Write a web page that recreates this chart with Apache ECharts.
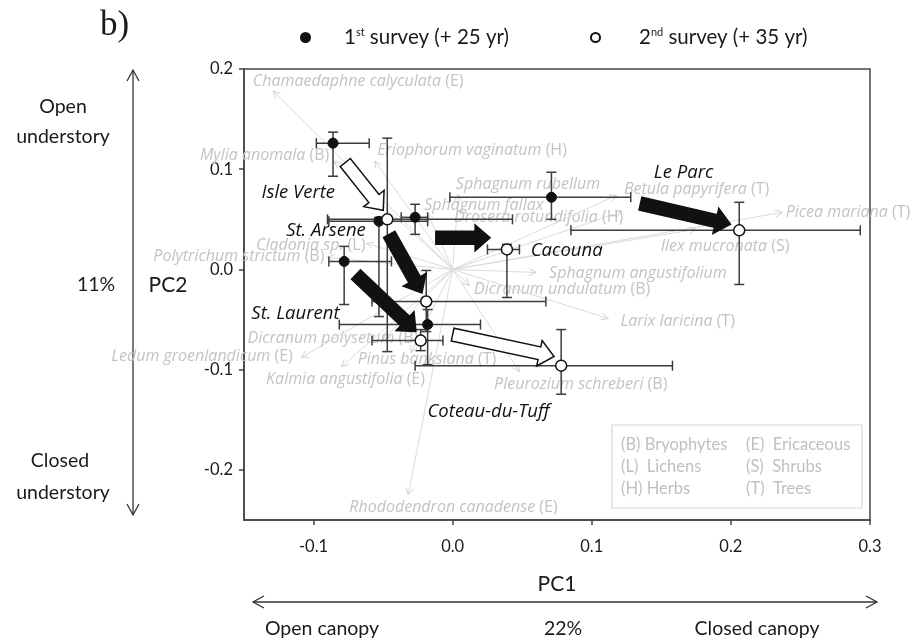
<!DOCTYPE html>
<html><head><meta charset="utf-8">
<script src="https://cdn.jsdelivr.net/npm/echarts@6/dist/echarts.min.js"></script>
<style>html,body{margin:0;padding:0;background:#fff}#c{width:916px;height:641px}</style>
</head><body><div id="c"></div>
<script>
// ---- Site scores (PC1, PC2) ----
const siteNames = ['Isle Verte', 'St. Arsene', 'Cacouna', 'Le Parc', 'St. Laurent', 'Coteau-du-Tuff'];
// 1st survey (+25 yr)
const s1X   = [-0.086, -0.053, -0.027, 0.071, -0.078, -0.018];
const s1Y   = [0.126, 0.048, 0.052, 0.072, 0.008, -0.055];
const s1XLo = [-0.098, -0.089, -0.037, -0.002, -0.089, -0.0815];
const s1XHi = [-0.060, -0.018, -0.018, 0.128, -0.044, 0.020];
const s1YLo = [0.093, -0.047, 0.035, 0.050, -0.035, -0.095];
const s1YHi = [0.137, 0.052, 0.065, 0.097, 0.023, -0.040];
// 2nd survey (+35 yr)
const s2X   = [-0.047, -0.019, 0.039, 0.206, -0.023, 0.078];
const s2Y   = [0.050, -0.032, 0.020, 0.039, -0.071, -0.096];
const s2XLo = [-0.090, -0.058, 0.025, 0.085, -0.058, -0.027];
const s2XHi = [0.043, 0.067, 0.048, 0.293, -0.007, 0.158];
const s2YLo = [-0.082, -0.062, -0.028, -0.015, -0.081, -0.1245];
const s2YHi = [0.131, -0.001, 0.025, 0.067, -0.060, -0.060];
// trajectory arrows (data coords)
const arrowX0 = [-0.0772, -0.0456, -0.0121, 0.135, -0.0695, 0.0];
const arrowY0 = [0.1067, 0.035, 0.0316, 0.0657, -0.005, -0.065];
const arrowX1 = [-0.0499, -0.0221, 0.0269, 0.1997, -0.0264, 0.0729];
const arrowY1 = [0.059, -0.0234, 0.0316, 0.045, -0.0618, -0.0868];
const arrowFilled = [false, true, true, true, true, false];
// site label anchors (left edge)
const siteLabelX = [-0.1375, -0.1197, 0.0561, 0.1446, -0.1447, -0.0181];
const siteLabelY = [0.0763, 0.0383, 0.0183, 0.0963, -0.0438, -0.1418];

// ---- Species vectors ----
const speciesNames = ['Chamaedaphne calyculata', 'Mylia anomala', 'Eriophorum vaginatum', 'Sphagnum rubellum',
  'Sphagnum fallax', 'Drosera rotundifolia', 'Betula papyrifera', 'Picea mariana', 'Ilex mucronata',
  'Cladonia sp.', 'Polytrichum strictum', 'Sphagnum angustifolium', 'Dicranum undulatum', 'Larix laricina',
  'Dicranum polysetum', 'Ledum groenlandicum', 'Kalmia angustifolia', 'Pinus banksiana',
  'Pleurozium schreberi', 'Rhododendron canadense'];
const speciesGroup = ['(E)', '(B)', '(H)', '', '', '(H)', '(T)', '(T)', '(S)', '(L)', '(B)', '', '(B)', '(T)',
  '(B)', '(E)', '(E)', '(T)', '(B)', '(E)'];
const speciesTipX = [-0.129, -0.085, -0.056, 0.004, -0.018, 0.122, 0.118, 0.237, 0.175, -0.062, -0.090, 0.060,
  0.012, 0.112, -0.050, -0.109, -0.080, -0.030, 0.048, -0.032];
const speciesTipY = [0.178, 0.108, 0.108, 0.075, 0.056, 0.058, 0.074, 0.057, 0.040, 0.026, 0.012, -0.003,
  -0.016, -0.049, -0.070, -0.088, -0.097, -0.083, -0.102, -0.225];
const speciesLabelX = [-0.1437, -0.0887, -0.0542, 0.0023, -0.0205, 0.001, 0.1231, 0.2394, 0.1495, -0.1413,
  -0.0922, 0.0693, 0.0154, 0.1207, -0.1475, -0.2454, -0.1341, -0.0683, 0.0298, -0.0743];
const speciesLabelY = [0.188, 0.1134, 0.1184, 0.0844, 0.0634, 0.0517, 0.080, 0.0567, 0.0233, 0.0243, 0.0133,
  -0.0044, -0.020, -0.0518, -0.0685, -0.0868, -0.110, -0.090, -0.115, -0.237];
const speciesLabelAlign = ['left', 'right', 'left', 'left', 'left', 'left', 'left', 'left', 'left', 'left',
  'right', 'left', 'left', 'left', 'left', 'left', 'left', 'left', 'left', 'left'];

// ---- Axis ticks ----
const xTicks = [-0.1, 0.0, 0.1, 0.2, 0.3];
const yTicks = [-0.2, -0.1, 0.0, 0.1, 0.2];
const legendTypes = [['(B) Bryophytes', '(L)  Lichens', '(H) Herbs'], ['(E)  Ericaceous', '(S)  Shrubs', '(T)  Trees']];

const s1Name = '1st survey (+ 25 yr)';
const s2Name = '2nd survey (+ 35 yr)';
const FONT = 'Lato';
const INK = '#1a1a1a';
const BAR = '#3c3c3c';
const SP = 16; // species label size

const chart = echarts.init(document.getElementById('c'), null, {renderer: 'canvas'});

function errData(X, Y, XL, XH, YL, YH) {
  return X.map((x, i) => [x, Y[i], XL[i], XH[i], YL[i], YH[i]]);
}
function renderErr(params, api) {
  const x = api.value(0), y = api.value(1);
  const l = api.coord([api.value(2), y]), r = api.coord([api.value(3), y]);
  const b = api.coord([x, api.value(4)]), t = api.coord([x, api.value(5)]);
  const cap = 5;
  const st = {stroke: BAR, lineWidth: 1.5};
  const L = (x1, y1, x2, y2) => ({type: 'line', shape: {x1, y1, x2, y2}, style: st});
  return {type: 'group', children: [
    L(l[0], l[1], r[0], r[1]), L(l[0], l[1] - cap, l[0], l[1] + cap), L(r[0], r[1] - cap, r[0], r[1] + cap),
    L(b[0], b[1], t[0], t[1]), L(b[0] - cap, b[1], b[0] + cap, b[1]), L(t[0] - cap, t[1], t[0] + cap, t[1])
  ]};
}
function renderArrow(params, api) {
  const p0 = api.coord([api.value(0), api.value(1)]);
  const p1 = api.coord([api.value(2), api.value(3)]);
  const filled = arrowFilled[params.dataIndex];
  const dx = p1[0] - p0[0], dy = p1[1] - p0[1];
  const len = Math.hypot(dx, dy), ux = dx / len, uy = dy / len, nx = -uy, ny = ux;
  const sw = 6.5, hw = 13, hl = 15;
  const bx = p1[0] - ux * hl, by = p1[1] - uy * hl;
  const pts = [[p0[0] + nx * sw, p0[1] + ny * sw], [bx + nx * sw, by + ny * sw], [bx + nx * hw, by + ny * hw],
    [p1[0], p1[1]], [bx - nx * hw, by - ny * hw], [bx - nx * sw, by - ny * sw], [p0[0] - nx * sw, p0[1] - ny * sw]];
  return {type: 'polygon', shape: {points: pts},
    style: {fill: filled ? '#111' : '#fff', stroke: '#111', lineWidth: 1.5}};
}
function renderSpecies(params, api) {
  const i = params.dataIndex;
  const o = api.coord([0, 0]);
  const tip = api.coord([api.value(0), api.value(1)]);
  const lab = api.coord([api.value(2), api.value(3)]);
  const dx = tip[0] - o[0], dy = tip[1] - o[1];
  const len = Math.hypot(dx, dy), ux = dx / len, uy = dy / len, nx = -uy, ny = ux;
  const h = 7, w = 3.5;
  const ah = [[tip[0] - ux * h + nx * w, tip[1] - uy * h + ny * w], [tip[0], tip[1]],
    [tip[0] - ux * h - nx * w, tip[1] - uy * h - ny * w]];
  const g = speciesGroup[i];
  const txt = '{i|' + speciesNames[i] + '}' + (g ? ' {n|' + g + '}' : '');
  return {type: 'group', children: [
    {type: 'line', shape: {x1: o[0], y1: o[1], x2: tip[0], y2: tip[1]}, style: {stroke: '#dadada', lineWidth: 1}},
    {type: 'polyline', shape: {points: ah}, style: {stroke: '#d2d2d2', lineWidth: 1, fill: null}},
    {type: 'text', x: lab[0], y: lab[1], style: {text: txt, align: speciesLabelAlign[i], verticalAlign: 'middle',
      fontSize: SP, fontFamily: 'Open Sans', fill: '#c3c3c3',
      rich: {i: {fontStyle: 'italic', fontFamily: 'Open Sans', fontSize: SP, fill: '#c3c3c3'},
             n: {fontFamily: 'Open Sans', fontSize: SP, fill: '#c3c3c3'}}}}
  ]};
}
function renderSiteLabel(params, api) {
  const p = api.coord([api.value(0), api.value(1)]);
  return {type: 'text', x: p[0], y: p[1], style: {text: siteNames[params.dataIndex], align: 'left',
    verticalAlign: 'middle', fontSize: 18.5, fontStyle: 'italic', fontFamily: 'Open Sans', fill: '#111'}};
}

const graphics = [];
graphics.push({type: 'text', left: 100, top: 8, style: {text: 'b)', fontFamily: 'Liberation Serif', fontSize: 35, fill: INK}});
function dblArrowV(x, y0, y1) {
  return [{type: 'line', shape: {x1: x, y1: y0, x2: x, y2: y1}, style: {stroke: '#333', lineWidth: 1.3}},
    {type: 'polyline', shape: {points: [[x - 6, y0 + 11], [x, y0], [x + 6, y0 + 11]]}, style: {stroke: '#333', lineWidth: 1.3, fill: null}},
    {type: 'polyline', shape: {points: [[x - 6, y1 - 11], [x, y1], [x + 6, y1 - 11]]}, style: {stroke: '#333', lineWidth: 1.3, fill: null}}];
}
function dblArrowH(y, x0, x1) {
  return [{type: 'line', shape: {x1: x0, y1: y, x2: x1, y2: y}, style: {stroke: '#333', lineWidth: 1.3}},
    {type: 'polyline', shape: {points: [[x0 + 11, y - 6], [x0, y], [x0 + 11, y + 6]]}, style: {stroke: '#333', lineWidth: 1.3, fill: null}},
    {type: 'polyline', shape: {points: [[x1 - 11, y - 6], [x1, y], [x1 - 11, y + 6]]}, style: {stroke: '#333', lineWidth: 1.3, fill: null}}];
}
graphics.push(...dblArrowV(133, 70, 515));
graphics.push(...dblArrowH(602, 253, 877));
function T(text, x, y, size, align) {
  return {type: 'text', x: x, y: y, style: {text: text, fontFamily: FONT, fontSize: size || 19.5, fill: INK,
    align: align || 'center', verticalAlign: 'middle'}};
}
graphics.push(T('Open', 63, 107), T('understory', 63, 137), T('11%', 96, 285), T('PC2', 168, 285, 21),
  T('Closed', 60, 461), T('understory', 63, 493),
  T('PC1', 557, 584, 21), T('Open canopy', 322, 629), T('22%', 563, 629), T('Closed canopy', 757, 629));
graphics.push({type: 'rect', shape: {x: 612, y: 425, width: 250, height: 83}, style: {fill: 'none', stroke: '#d6d6d6', lineWidth: 1.2}});
legendTypes.forEach((col, ci) => col.forEach((t, ri) => {
  graphics.push({type: 'text', x: ci === 0 ? 621 : 746, y: 445 + ri * 21.7,
    style: {text: t, fontFamily: FONT, fontSize: 16.5, fill: '#c0c0c0', align: 'left', verticalAlign: 'middle'}});
}));

function legendText(pad) {
  return {fontFamily: FONT, fontSize: 20.5, color: INK, padding: [0, 0, 0, pad],
    rich: {sup: {fontSize: 11, verticalAlign: 'top', fontFamily: FONT, color: INK, padding: [0, 0, 9, 0]}}};
}
const legendFmt = n => n === s1Name ? '1{sup|st} survey (+ 25 yr)' : '2{sup|nd} survey (+ 35 yr)';

chart.setOption({
  animation: false,
  grid: {left: 244, top: 69, width: 626, height: 451, show: true, borderColor: '#444', borderWidth: 1.5, backgroundColor: 'transparent'},
  legend: [
    {data: [s1Name], left: 300, top: 27, padding: 0, itemWidth: 9, itemHeight: 9, formatter: legendFmt, textStyle: legendText(29)},
    {data: [s2Name], left: 590, top: 27, padding: 0, itemWidth: 9, itemHeight: 9, formatter: legendFmt, textStyle: legendText(34)}
  ],
  xAxis: {type: 'value', min: -0.15, max: 0.3,
    axisLine: {show: true, onZero: false, lineStyle: {color: '#444', width: 1.5}},
    axisTick: {show: true, length: 5, customValues: xTicks, lineStyle: {color: '#444', width: 1.5}},
    axisLabel: {customValues: xTicks, formatter: v => v.toFixed(1), margin: 18, fontFamily: FONT, fontSize: 16.5, color: INK},
    splitLine: {show: false}},
  yAxis: {type: 'value', min: -0.25, max: 0.2,
    axisLine: {show: true, onZero: false, lineStyle: {color: '#444', width: 1.5}},
    axisTick: {show: true, length: 5, customValues: yTicks, lineStyle: {color: '#444', width: 1.5}},
    axisLabel: {customValues: yTicks, formatter: v => v.toFixed(1), margin: 11, fontFamily: FONT, fontSize: 16.5, color: INK},
    splitLine: {show: false}},
  graphic: graphics,
  series: [
    {type: 'custom', name: 'species', z: 1, silent: true, renderItem: renderSpecies,
      data: speciesNames.map((n, i) => [speciesTipX[i], speciesTipY[i], speciesLabelX[i], speciesLabelY[i]])},
    {type: 'custom', name: 'err1', z: 2, silent: true, renderItem: renderErr, data: errData(s1X, s1Y, s1XLo, s1XHi, s1YLo, s1YHi)},
    {type: 'custom', name: 'err2', z: 2, silent: true, renderItem: renderErr, data: errData(s2X, s2Y, s2XLo, s2XHi, s2YLo, s2YHi)},
    {type: 'custom', name: 'arrows', z: 3, silent: true, renderItem: renderArrow,
      data: arrowX0.map((x, i) => [x, arrowY0[i], arrowX1[i], arrowY1[i]])},
    {type: 'scatter', name: s1Name, z: 4, symbol: 'circle', symbolSize: 10,
      itemStyle: {color: '#111', borderColor: '#111', borderWidth: 1, opacity: 1},
      data: s1X.map((x, i) => [x, s1Y[i]])},
    {type: 'scatter', name: s2Name, z: 4, symbol: 'circle', symbolSize: 11,
      itemStyle: {color: '#fff', borderColor: '#111', borderWidth: 1.5, opacity: 1},
      data: s2X.map((x, i) => [x, s2Y[i]])},
    {type: 'custom', name: 'siteLabels', z: 5, silent: true, renderItem: renderSiteLabel,
      data: siteLabelX.map((x, i) => [x, siteLabelY[i]])}
  ]
});
</script></body></html>
